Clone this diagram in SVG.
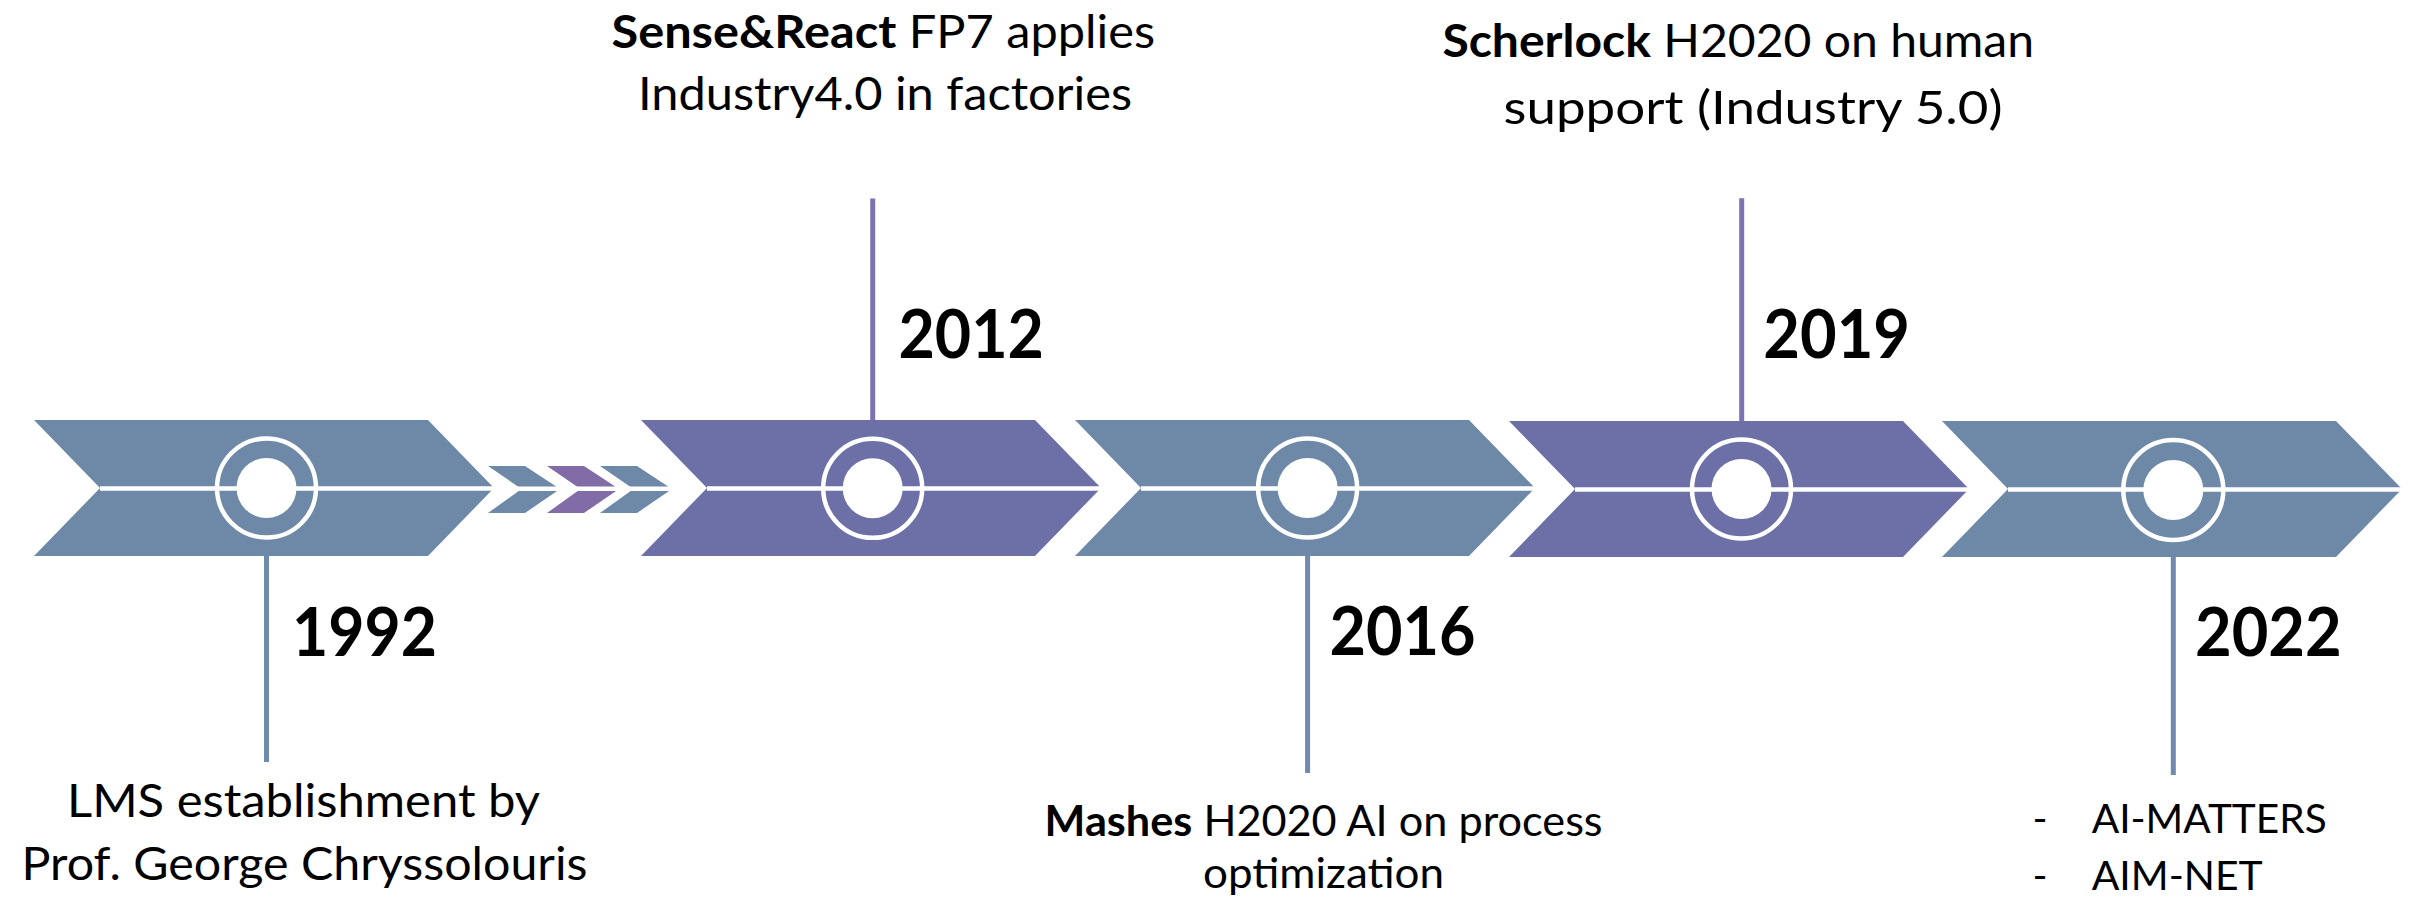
<svg xmlns="http://www.w3.org/2000/svg" width="2412" height="897" viewBox="0 0 2412 897">
<style>
.bg{fill:#ffffff}
.blue{fill:#6E89A8}
.purple{fill:#6D70A7}
.spurple{fill:#826CA8}
.split{stroke:#ffffff;stroke-width:4.5;fill:none}
.ring{stroke:#ffffff;stroke-width:4.5;fill:none}
.disk{fill:#ffffff}
.lb{stroke:#6F8AAB;stroke-width:5;fill:none}
.lp{stroke:#7E72B2;stroke-width:5;fill:none}
text{font-family:Lato,"Liberation Sans",sans-serif;fill:#000000}
.year{font-size:67px;font-weight:bold}
.lab{font-size:46px}
.lab2{font-size:42px}
.list{font-size:40.5px}
.b{font-weight:bold}
</style>
<rect class="bg" x="0" y="0" width="2412" height="897"/>

<g id="arrows">
  <g id="dots">
    <path class="blue" d="M488,466 H525 L560,489 L525,513 H488 L521.5,489 Z"/>
    <path class="spurple" d="M547,466 H584 L619,489 L584,513 H547 L580.5,489 Z"/>
    <path class="blue" d="M600,466 H637 L672,489 L637,513 H600 L633.5,489 Z"/>
    <line class="split" x1="485" y1="488.8" x2="675" y2="488.8"/>
  </g>
</g>

<g id="node-1992">
  <path class="blue" d="M34,420 H428 L494,488 L428,556 H34 L100,488 Z"/>
  <line class="split" x1="100" y1="488.5" x2="494" y2="488.5"/>
  <circle class="ring" cx="266.5" cy="488" r="49.5"/>
  <circle class="disk" cx="266.5" cy="488" r="30"/>
  <text class="year" x="292" y="656" textLength="145" lengthAdjust="spacingAndGlyphs">1992</text>
  <text class="lab" x="67" y="817" textLength="473" lengthAdjust="spacingAndGlyphs">LMS establishment by</text>
  <text class="lab" x="21.5" y="880" textLength="566" lengthAdjust="spacingAndGlyphs">Prof. George Chryssolouris</text>
</g>

<g id="node-2012">
  <path class="purple" d="M641,420 H1035 L1101,488 L1035,556 H641 L707,488 Z"/>
  <line class="split" x1="707" y1="488.5" x2="1101" y2="488.5"/>
  <circle class="ring" cx="872.7" cy="488.3" r="49.5"/>
  <circle class="disk" cx="872.7" cy="488.3" r="30"/>
  <text class="year" x="898.5" y="357.5" textLength="145.5" lengthAdjust="spacingAndGlyphs">2012</text>
  <text class="lab" x="611.5" y="48" textLength="543.5" lengthAdjust="spacingAndGlyphs"><tspan class="b">Sense&amp;React</tspan> FP7 applies</text>
  <text class="lab" x="638" y="110" textLength="494" lengthAdjust="spacingAndGlyphs">Industry4.0 in factories</text>
</g>

<g id="node-2016">
  <path class="blue" d="M1075,420 H1469 L1535,488 L1469,556 H1075 L1141,488 Z"/>
  <line class="split" x1="1141" y1="488.5" x2="1535" y2="488.5"/>
  <circle class="ring" cx="1307.6" cy="488" r="49.5"/>
  <circle class="disk" cx="1307.6" cy="488" r="30"/>
  <text class="year" x="1329.5" y="655" textLength="146" lengthAdjust="spacingAndGlyphs">2016</text>
  <text class="lab2" x="1044.6" y="836" textLength="558" lengthAdjust="spacingAndGlyphs"><tspan class="b">Mashes</tspan> H2020 AI on process</text>
  <text class="lab2" x="1203" y="887.5" textLength="241" lengthAdjust="spacingAndGlyphs">optimization</text>
</g>

<g id="node-2019">
  <path class="purple" d="M1509,421 H1903 L1969,489 L1903,557 H1509 L1575,489 Z"/>
  <line class="split" x1="1575" y1="489.5" x2="1969" y2="489.5"/>
  <circle class="ring" cx="1741.5" cy="489" r="49.5"/>
  <circle class="disk" cx="1741.5" cy="489" r="30"/>
  <text class="year" x="1763.3" y="358.3" textLength="146.7" lengthAdjust="spacingAndGlyphs">2019</text>
  <text class="lab" x="1442.4" y="57" textLength="591.6" lengthAdjust="spacingAndGlyphs"><tspan class="b">Scherlock</tspan> H2020 on human</text>
  <text class="lab" x="1503.6" y="124" textLength="499" lengthAdjust="spacingAndGlyphs">support (Industry 5.0)</text>
</g>

<g id="node-2022">
  <path class="blue" d="M1942,421 H2336 L2402,489 L2336,557 H1942 L2008,489 Z"/>
  <line class="split" x1="2008" y1="489.5" x2="2402" y2="489.5"/>
  <circle class="ring" cx="2173.3" cy="490" r="50"/>
  <circle class="disk" cx="2173.3" cy="490" r="30"/>
  <text class="year" x="2195" y="656" textLength="146.7" lengthAdjust="spacingAndGlyphs">2022</text>
  <text class="list" x="2032.5" y="833.3">-</text>
  <text class="list" x="2091.7" y="833.3" textLength="235" lengthAdjust="spacingAndGlyphs">AI-MATTERS</text>
  <text class="list" x="2032.5" y="890">-</text>
  <text class="list" x="2091.7" y="890" textLength="171" lengthAdjust="spacingAndGlyphs">AIM-NET</text>
</g>

<g id="connectors">
  <line class="lb" x1="266.5" y1="556" x2="266.5" y2="762"/>
  <line class="lp" x1="872.7" y1="198.5" x2="872.7" y2="420"/>
  <line class="lb" x1="1307.6" y1="556" x2="1307.6" y2="773"/>
  <line class="lp" x1="1741.7" y1="198.3" x2="1741.7" y2="421"/>
  <line class="lb" x1="2173.3" y1="557" x2="2173.3" y2="775"/>
</g>
</svg>
